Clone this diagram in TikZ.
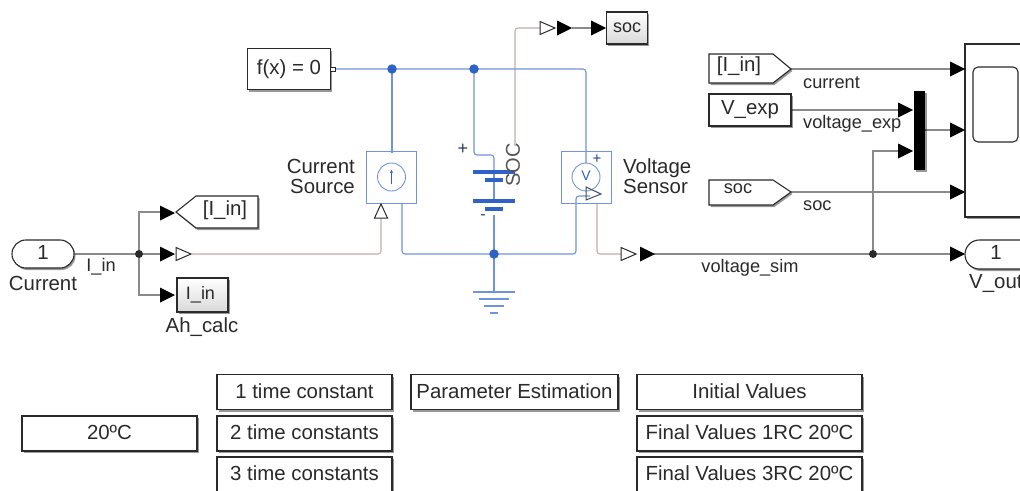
\documentclass[tikz,border=0pt]{standalone}
\usepackage{fontspec}
\setmainfont{Liberation Sans}
\usetikzlibrary{shadows,arrows.meta}
\definecolor{phys}{HTML}{6F93DC}
\definecolor{physd}{HTML}{2F62C6}
\definecolor{sigr}{HTML}{C9A9A9}
\definecolor{wire}{HTML}{8A8A8A}
\definecolor{ink}{HTML}{2A2A2A}
\tikzset{
 x=1pt,y=-1pt,
 shd/.style={drop shadow={shadow xshift=1.5pt,shadow yshift=-2pt,opacity=.4,fill=black}},
 lab/.style={font=\fontsize{20.4}{20}\selectfont,text=ink,inner sep=0pt},
 lab2/.style={font=\fontsize{18.2}{20}\selectfont,text=ink,inner sep=0pt},
 blockb/.style={draw=ink,fill=white,line width=1.1pt,inner sep=0pt,font=\fontsize{20.4}{22}\selectfont,text=ink,shd},
 gotob/.style={draw=ink,fill=white,line width=1.1pt,shd},
 grayb/.style={draw=ink,line width=1.1pt,inner sep=0pt,top color=white,bottom color=black!15,font=\fontsize{18}{20}\selectfont,text=ink,shd},
 physbox/.style={draw=phys,fill=white,line width=.9pt,inner sep=0pt},
 physw/.style={draw=phys,line width=1.1pt,rounded corners=3pt},
 sig/.style={draw=sigr,line width=1.1pt,rounded corners=3pt},
 wr/.style={draw=wire,line width=1.1pt},
 dotk/.style={circle,fill=ink,inner sep=0pt,minimum size=8pt},
 dotb/.style={circle,fill=physd,inner sep=0pt,minimum size=9.5pt},
 otri/.style={draw=ink,fill=white,line width=1pt},
 bt/.style={draw=ink,fill=white,line width=1.1pt,inner sep=0pt,font=\fontsize{20.4}{22}\selectfont,text=ink,shd},
}
\newcommand{\btip}[2]{\fill[black] (#1-15,#2-7.5) -- (#1,#2) -- (#1-15,#2+7.5) -- cycle;}
\newcommand{\otipr}[2]{\draw[otri] (#1,#2-6.5) -- (#1+15,#2) -- (#1,#2+6.5) -- cycle;}
\newcommand{\up}[1]{\raisebox{2.5pt}{#1}}
\begin{document}
\begin{tikzpicture}
\useasboundingbox (0,0) rectangle (1020,490);
\fill[white] (0,0) rectangle (1020,490);
% coordinates
\coordinate (jin) at (139,254);
\coordinate (jvs) at (873,254);
\coordinate (j1) at (392,69);
\coordinate (j2) at (474,69);
\coordinate (j3) at (494,254);
% signal wires behind
\draw[wr] (75,254) -- (jin);
\draw[wr] (160,212) -- (139,212) -- (jin) -- (139,295) -- (160,295);
\draw[wr] (jin) -- (160,254);
\draw[sig] (192,254) -- (381,254) -- (381,218);
\draw[sig] (515,146) -- (515,28) -- (540,28);
\draw[wr] (572,28) -- (592,28);
\draw[sig] (597,203) -- (597,254) -- (621,254);
\draw[wr] (653,254) -- (950,254);
\draw[wr] (791,69) -- (950,69);
\draw[wr] (791,192) -- (950,192);
\draw[wr] (791,110) -- (898,110);
\draw[wr] (925,130) -- (950,130);
\draw[wr] (jvs) -- (873,151) -- (898,151);
% blocks
\node[blockb,minimum width=83pt,minimum height=41pt] (fx) at (289,69) {f(x) = 0};
\node[physbox,minimum width=50pt,minimum height=52pt] (cs) at (391.5,177) {};
\draw[draw=phys,line width=.9pt] (391.5,177) circle (14);
\draw[draw=physd,line width=.9pt,-{Stealth[length=3pt,width=3pt]}] (391.5,184) -- (391.5,170);
\node[physbox,minimum width=50pt,minimum height=52pt] (vs) at (586,177) {};
\draw[draw=phys,line width=.9pt] (586,177) circle (14);
\node[text=physd,font=\fontsize{14}{16}\selectfont] (vv) at (586,176) {V};
\node[text=physd!70!black,font=\fontsize{15}{16}\selectfont] (vplus) at (597,159) {+};
% physical wires
\draw[physw] (331,69) -- (j2) -- (586,69) -- (586,163);
\draw[physw] (j1) -- (392,153);
\draw[physw] (j2) -- (474,155) -- (494,155) -- (494,171);
\draw[physw] (402,203) -- (402,254) -- (j3) -- (576,254) -- (576,196) -- (590,196);
\node[draw=ink,fill=white,line width=.8pt,minimum size=4.5pt,inner sep=0pt] (fxp) at (333,69.5) {};
% battery
\draw[physw] (494,171) -- (494,200);
\draw[phys,line width=1.1pt] (494,215) -- (494,292);
\draw[draw=physd,line width=4pt] (473,172) -- (515,172);
\draw[draw=physd,line width=4pt] (485,180) -- (503,180);
\draw[draw=physd,line width=4pt] (473,200.500) -- (515,200.500);
\draw[draw=physd,line width=4pt] (485,209) -- (503,209);
\node[font=\fontsize{18}{20}\selectfont,text=ink!70!physd,inner sep=0pt] (bplus) at (463,149) {+};
\node[font=\fontsize{16}{18}\selectfont,text=ink!60!physd,inner sep=0pt] (bminus) at (483,217) {-};
\node[rotate=90,font=\fontsize{20}{22}\selectfont,text=ink!80,inner sep=0pt] (soclab) at (513,165) {SOC};
% ground
\draw[phys,line width=1.1pt] (473,292) -- (515,292);
\draw[phys,line width=1.1pt] (479,299) -- (509,299);
\draw[phys,line width=1.1pt] (484,306) -- (504,306);
\draw[phys,line width=1.1pt] (490,313) -- (498,313);
% junctions
\node[dotb] at (j1) {};
\node[dotb] at (j2) {};
\node[dotb] at (j3) {};
\node[dotk] at (jin) {};
\node[dotk] at (jvs) {};
% labels
\node[lab,align=right,anchor=east] (cslab) at (355,176) {Current\\Source};
\node[lab,align=left,anchor=west] (vslab) at (623,176) {Voltage\\Sensor};
% inport
\draw[blockb,rounded corners=13.9pt] (12,240) rectangle (74,268);
\node[lab] (in1) at (43,252) {1};
\node[lab] (inlab) at (43,283) {Current};
\node[lab2] (iinl) at (101,267) {I\_in};
% goto
\draw[gotob] (176,212) -- (196,196) -- (258,196) -- (258,228) -- (196,228) -- cycle;
\node[lab] (gi) at (225,210) {[I\_in]};
\btip{175}{213}
\btip{175}{254}
\otipr{176}{254}
\btip{175}{295}
% Ah calc
\node[grayb,minimum width=51pt,minimum height=34pt] (ah) at (202.500,295) {\hspace{-4pt}I\_in};
\node[lab] (ahl) at (202,327) {Ah\_calc};
% current source input
\draw[otri] (374.500,218) -- (381,204) -- (387.500,218) -- cycle;
% SOC goto/block
\otipr{540}{28}
\btip{572}{28}
\btip{606}{28}
\node[grayb,minimum width=41pt,minimum height=32pt] (socb) at (627,28) {soc};
% voltage sensor output
\draw[draw=ink!70!phys,line width=1pt] (586,187) -- (601,194) -- (586,200) -- cycle;
\otipr{621}{254}
\btip{655}{254}
% right side
\node[lab2] (vsim) at (750,268) {voltage\_sim};
\draw[gotob] (709,54) -- (773,54) -- (791,69) -- (773,83) -- (709,83) -- cycle;
\node[lab] (gfi) at (739,66) {[I\_in]};
\node[lab2,anchor=west] (cur) at (803,83) {current};
\node[blockb,minimum width=82pt,minimum height=32pt] (vexp) at (750,110) {\up{V\_exp}};
\node[lab2,anchor=west] (volt) at (803,124) {voltage\_exp};
\draw[gotob] (709,180) -- (773,180) -- (791,192) -- (773,205) -- (709,205) -- cycle;
\node[lab2] (gsoc) at (738,189) {soc};
\node[lab2,anchor=west] (socl) at (803,206) {soc};
% mux
\node[fill=black,minimum width=11pt,minimum height=79pt,inner sep=0pt,shd] (mux) at (919.500,130.500) {};
\btip{913}{110}
\btip{913}{151}
% scope
\draw[gotob] (965,44) rectangle (1030,217);
\draw[draw=ink,fill=white,line width=1.1pt,rounded corners=5pt] (973,67) rectangle (1018,142);
\btip{965}{69}
\btip{965}{130}
\btip{965}{192}
\btip{965}{254}
% outport
\draw[blockb,rounded corners=14.4pt] (965,240) rectangle (1040,269);
\node[lab] (o1) at (996,252) {1};
\node[lab,anchor=west] (vout) at (969,284) {V\_out};
% bottom
\node[bt,minimum width=175pt,minimum height=35pt] (b20) at (109.500,433.5) {\up{20ºC}};
\node[bt,minimum width=175pt,minimum height=35pt] (t1) at (304.500,392) {\up{1 time constant}};
\node[bt,minimum width=175pt,minimum height=35pt] (t2) at (304.500,433.5) {\up{2 time constants}};
\node[bt,minimum width=175pt,minimum height=35pt] (t3) at (304.500,474.5) {\up{3 time constants}};
\node[bt,minimum width=207pt,minimum height=35pt] (pe) at (514.500,392) {\up{Parameter Estimation}};
\node[bt,minimum width=225pt,minimum height=35pt] (iv) at (749.500,392) {\up{Initial Values}};
\node[bt,minimum width=225pt,minimum height=35pt] (f1) at (749.500,433.5) {\up{Final Values 1RC 20ºC}};
\node[bt,minimum width=225pt,minimum height=35pt] (f3) at (749.500,474.5) {\up{Final Values 3RC 20ºC}};
\end{tikzpicture}
\end{document}
